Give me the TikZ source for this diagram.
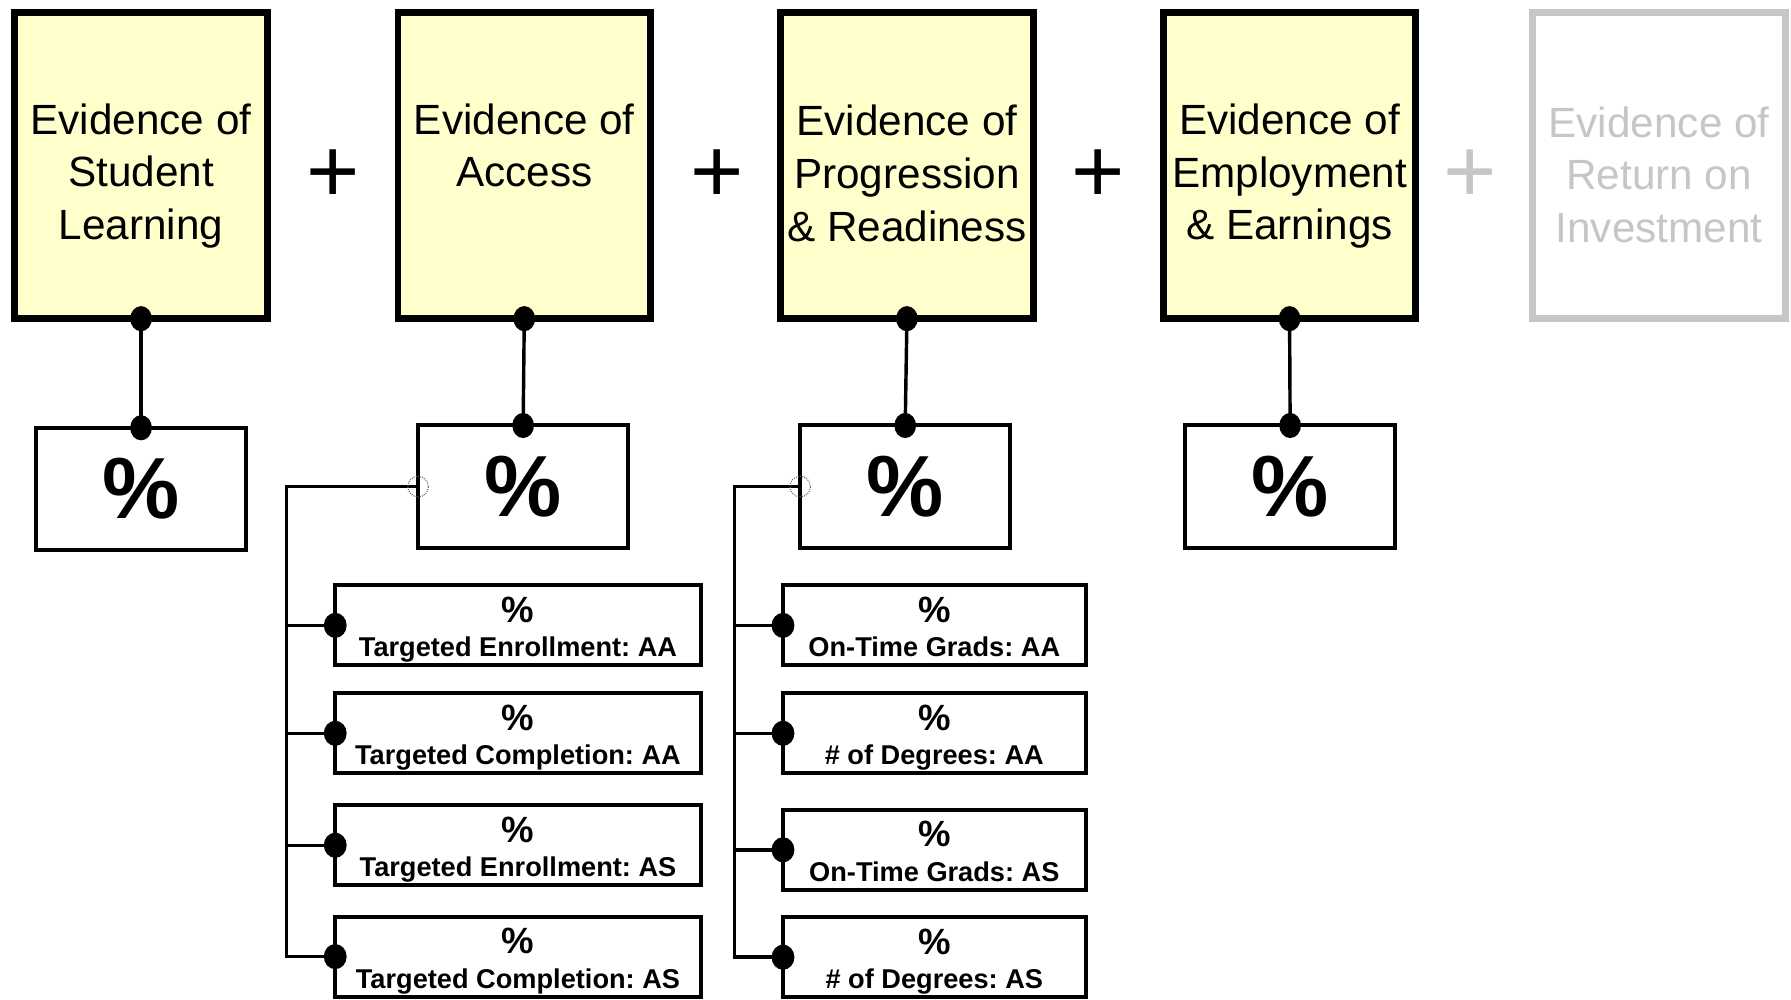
\documentclass[tikz,border=0pt]{standalone}
\usepackage{fontspec}
\setmainfont{Liberation Sans}
\usetikzlibrary{calc}
\definecolor{boxyellow}{HTML}{FFFFCC}
\definecolor{ghost}{HTML}{C6C6C6}
\frenchspacing
\begin{document}
\begin{tikzpicture}[x=1pt,y=-1pt,
  evbox/.style={draw=black, line width=6pt, fill=boxyellow, minimum width=221pt, minimum height=268pt, inner sep=0pt, outer sep=0pt},
  ghostbox/.style={evbox, draw=ghost, fill=white},
  evtext/.style={anchor=north, align=center, inner sep=0pt, font=\fontsize{37}{46}\selectfont},
  pbox/.style={draw, line width=3.5pt, minimum width=184pt, minimum height=107pt, inner sep=0pt, outer sep=0pt, font=\bfseries\fontsize{76}{76}\selectfont},
  subboxL/.style={draw, line width=3.5pt, minimum width=320pt, minimum height=70pt, inner sep=0pt, outer sep=0pt},
  subboxR/.style={subboxL, minimum width=265pt},
  subpct/.style={anchor=base, inner sep=0pt, font=\bfseries\fontsize{32}{32}\selectfont},
  sublbl/.style={anchor=base, inner sep=0pt, font=\bfseries\fontsize{23.8}{24}\selectfont},
  plussign/.style={inner sep=0pt, font=\fontsize{80}{80}\selectfont},
  conn/.style={line width=3pt},
  ring/.style={densely dotted, line width=0.9pt, draw=black!60}
]
\useasboundingbox (0,0) rectangle (1568,875);

% top boxes
\node[evbox] (b1) at (123.5,145) {};
\node[evbox] (b2) at (459,145) {};
\node[evbox] (b3) at (794,145) {};
\node[evbox] (b4) at (1129,145) {};
\node[ghostbox] (b5) at (1452.5,145) {};

\node[evtext] (ev1) at ($(b1.north)+(0,79.5)$) {Evidence of\\Student\\Learning};
\node[evtext] (ev2) at ($(b2.north)+(0,79.5)$) {Evidence of\\Access};
\node[evtext] (ev3) at ($(b3.north)+(0,81)$) {Evidence of\\Progression\\\& Readiness};
\node[evtext] (ev4) at ($(b4.north)+(0,80)$) {Evidence of\\Employment\\\& Earnings};
\node[evtext, text=ghost] (ev5) at ($(b5.north)+(0,82)$) {Evidence of\\Return on\\Investment};

% plus signs
\node[plussign] (pl1) at (292,154) {+};
\node[plussign] (pl2) at (628,154) {+};
\node[plussign] (pl3) at (961,154) {+};
\node[plussign, text=ghost] (pl4) at (1287,154) {+};

% percent boxes
\node[pbox] (p1) at (123.5,428) {\%};
\node[pbox] (p2) at (458,426) {\%};
\node[pbox] (p3) at (792.5,426) {\%};
\node[pbox] (p4) at (1129.5,426) {\%};

% vertical connectors
\foreach \a/\b in {b1/p1,b2/p2,b3/p3,b4/p4}{
  \draw[conn] (\a.south) -- (\b.north);
  \fill (\a.south) ellipse [x radius=9.5pt, y radius=11pt];
  \fill (\b.north) ellipse [x radius=9.5pt, y radius=11pt];
}

% left sub boxes
\node[subboxL] (sa1) at (453.5,547.5) {};
\node[subboxL] (sa2) at (453.5,642) {};
\node[subboxL] (sa3) at (453.5,740) {};
\node[subboxL] (sa4) at (453.5,837.5) {};
\foreach \s/\t in {sa1/Targeted Enrollment: AA, sa2/Targeted Completion: AA, sa3/Targeted Enrollment: AS, sa4/Targeted Completion: AS}{
  \node[subpct] (\s p) at ($(\s.center)+(0,-2.5)$) {\%};
  \node[sublbl] (\s t) at ($(\s.center)+(0,27.5)$) {\t};
}

% right sub boxes
\node[subboxR] (sb1) at (818,547.5) {};
\node[subboxR] (sb2) at (818,642) {};
\node[subboxR] (sb3) at (818,744) {};
\node[subboxR] (sb4) at (818,838) {};
\foreach \s/\t in {sb1/On-Time Grads: AA, sb2/\# of Degrees: AA, sb3/On-Time Grads: AS, sb4/\# of Degrees: AS}{
  \node[subpct] (\s p) at ($(\s.center)+(0,-2.5)$) {\%};
  \node[sublbl] (\s t) at ($(\s.center)+(0,27.5)$) {\t};
}

% brackets
\coordinate (jl) at (251,426);
\coordinate (jr) at (643,426);
\draw[conn] (p2.west) -- (jl) |- (sa4.west);
\draw[conn] (p3.west) -- (jr) |- (sb4.west);
\foreach \s in {sa1,sa2,sa3}{\draw[conn] (jl |- \s.west) -- (\s.west);}
\foreach \s in {sb1,sb2,sb3}{\draw[conn] (jr |- \s.west) -- (\s.west);}
\foreach \s in {sa1,sa2,sa3,sa4,sb1,sb2,sb3,sb4}{
  \fill (\s.west) ellipse [x radius=10pt, y radius=11pt];
}
\draw[ring] (p2.west) circle [radius=9pt];
\draw[ring] (p3.west) circle [radius=9pt];
\end{tikzpicture}
\end{document}
